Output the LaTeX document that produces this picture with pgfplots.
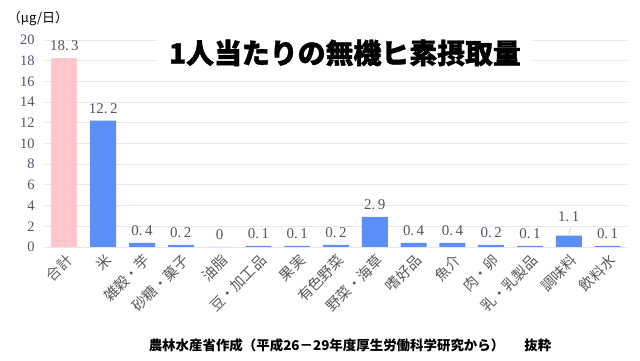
\documentclass[border=0pt]{standalone}
\usepackage{pgfplots}
\pgfplotsset{compat=1.18}
\usepackage{fontspec}
\setmainfont{Liberation Serif}
\newfontfamily\jp{Noto Sans CJK JP}
\newfontfamily\jptitle{Noto Sans CJK JP}[FakeBold=1.5]
\definecolor{pinkbar}{HTML}{FFC7CB}
\definecolor{bluebar}{HTML}{5C8EF8}
\definecolor{txt}{HTML}{595959}
\definecolor{num}{HTML}{4F5466}
\definecolor{gridc}{HTML}{E6E6E6}
\begin{document}
\begin{tikzpicture}
\path[use as bounding box] (0bp,0bp) rectangle (640bp,361bp);
\begin{axis}[
  at={(45bp,114bp)}, anchor=south west,
  scale only axis, width=582bp, height=207bp,
  xmin=-0.5, xmax=14.5, ymin=0, ymax=20,
  ytick={0,2,...,20},
  xtick={0,...,14},
  xticklabels={合計,米,雑穀・芋,砂糖・菓子,油脂,豆・加工品,果実,有色野菜,野菜・海草,嗜好品,魚介,肉・卵,乳・乳製品,調味料,飲料水},
  xticklabel style={font=\jp\fontsize{14.5}{14.5}\selectfont, yshift=-10bp, xshift=6bp, rotate=45, anchor=east, text=txt, inner sep=1bp},
  yticklabel style={font=\fontsize{14.5}{14.5}\selectfont, text=num, xshift=-7bp},
  /pgf/number format/assume math mode=true,
  axis line style={draw=none},
  major tick length=0pt,
  ymajorgrids, grid style={gridc, line width=0.8pt},
  ybar, bar width=26bp, bar shift=0pt,
  nodes near coords, point meta=explicit symbolic,
  every node near coord/.append style={font=\fontsize{15}{15}\selectfont, text=num, inner sep=2bp, yshift=5bp},
  clip=false,
]
\addplot[fill=pinkbar, draw=none] coordinates {(0,18.3) [18.\,3]};
\addplot[fill=bluebar, draw=none] coordinates {
(1,12.2) [12.\,2]
(2,0.4) [0.\,4]
(3,0.2) [0.\,2]
(4,0) [0]
(5,0.1) [0.\,1]
(6,0.1) [0.\,1]
(7,0.2) [0.\,2]
(8,2.9) [2.\,9]
(9,0.4) [0.\,4]
(10,0.4) [0.\,4]
(11,0.2) [0.\,2]
(12,0.1) [0.\,1]
(13,1.1) [\raisebox{7bp}{1.\,1}]
(14,0.1) [0.\,1]
};
\draw[gray!40, line width=0.6pt] (axis cs:13,1.25) -- (axis cs:13.05,1.9);
\end{axis}
\node[fill=white, inner xsep=12bp, inner ysep=6bp, font=\jptitle\bfseries\fontsize{28}{28}\selectfont] at (345bp,308bp) {1人当たりの無機ヒ素摂取量};
\node[font=\jp\fontsize{13}{13}\selectfont, text=black] at (38bp,342bp) {（μg/日）};
\node[font=\jp\bfseries\fontsize{13.5}{13.5}\selectfont] at (350bp,16bp) {農林水産省作成（平成26－29年度厚生労働科学研究から）\hspace{20bp}抜粋};
\end{tikzpicture}
\end{document}
